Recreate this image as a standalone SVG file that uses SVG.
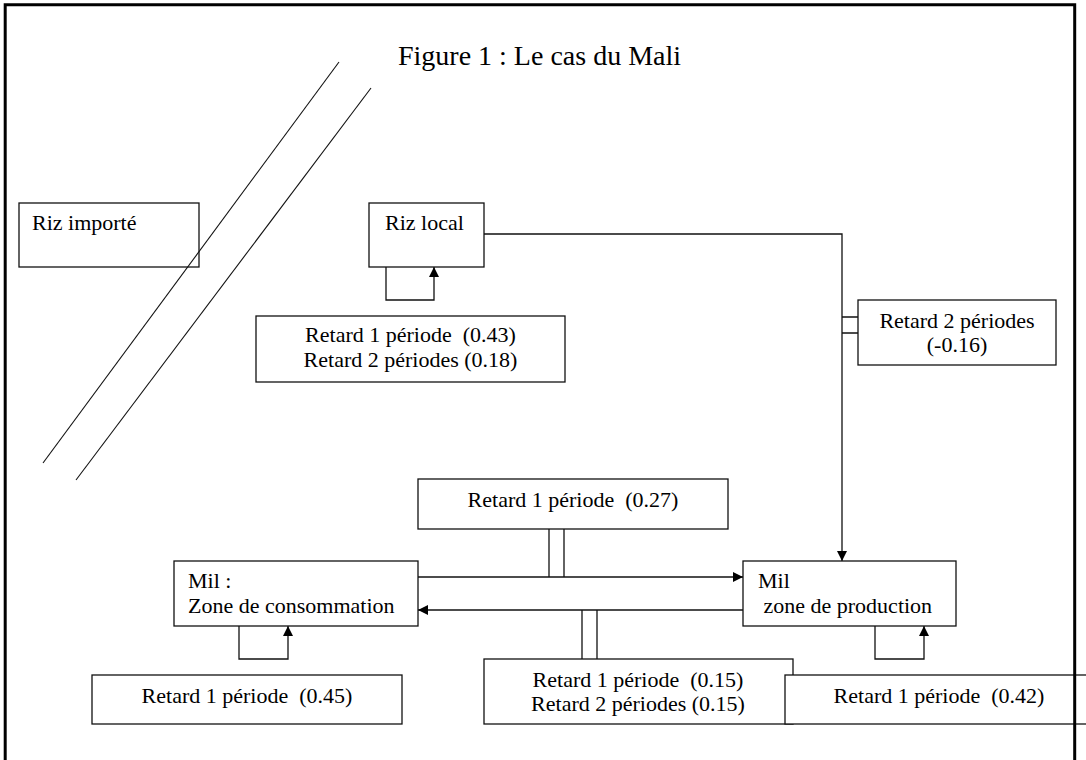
<svg xmlns="http://www.w3.org/2000/svg" width="1086" height="760" viewBox="0 0 1086 760">
<style>
.box{fill:#fff;stroke:#111;stroke-width:1.3}
.t{font-family:"Liberation Serif","Times New Roman",serif;font-size:22px;fill:#000;white-space:pre}
.c{text-anchor:middle}
.ln{fill:none;stroke:#111;stroke-width:1.3}
.diag{fill:none;stroke:#111;stroke-width:1.1}
</style>
<defs>
<marker id="ah" markerUnits="userSpaceOnUse" markerWidth="10" markerHeight="10" refX="10" refY="5" orient="auto">
<path d="M0,0 L10,5 L0,10 z" fill="#000"/>
</marker>
</defs>
<rect width="1086" height="760" fill="#fff"/>
<text x="539.5" y="65" class="t c" style="font-size:28px">Figure 1 : Le cas du Mali</text>

<g id="connectors">
<path class="ln" d="M484,234 H842 V561" marker-end="url(#ah)"/>
<path class="ln" d="M842,317 H858 M842,333 H858"/>
<path class="ln" d="M418,577 H743" marker-end="url(#ah)"/>
<path class="ln" d="M743,610 H418" marker-end="url(#ah)"/>
<path class="ln" d="M549,529 V577 M564,529 V577"/>
<path class="ln" d="M582,610 V659 M597,610 V659"/>
<path class="ln" d="M386,267 V300 H434 V267" marker-end="url(#ah)"/>
<path class="ln" d="M239,626 V659 H288 V626" marker-end="url(#ah)"/>
<path class="ln" d="M875,626 V659 H924 V626" marker-end="url(#ah)"/>
</g>

<g id="riz-importe">
<rect class="box" x="19" y="203" width="180" height="64"/>
<text class="t" x="32" y="230">Riz importé</text>
</g>
<g id="riz-local">
<rect class="box" x="369" y="203" width="115" height="64"/>
<text class="t" x="385" y="230">Riz local</text>
</g>
<g id="retard-riz-local">
<rect class="box" x="256" y="316" width="309" height="66"/>
<text class="t c" x="410.5" y="342">Retard 1 période  (0.43)</text>
<text class="t c" x="410.5" y="367">Retard 2 périodes (0.18)</text>
</g>
<g id="retard-riz-mil">
<rect class="box" x="858" y="300" width="198" height="65"/>
<text class="t c" x="957" y="328">Retard 2 périodes</text>
<text class="t c" x="957" y="352">(-0.16)</text>
</g>
<g id="retard-027">
<rect class="box" x="418" y="479" width="310" height="50"/>
<text class="t c" x="573" y="507">Retard 1 période  (0.27)</text>
</g>
<g id="mil-consommation">
<rect class="box" x="174" y="561" width="244" height="65"/>
<text class="t" x="188" y="588">Mil :</text>
<text class="t" x="188" y="613">Zone de consommation</text>
</g>
<g id="mil-production">
<rect class="box" x="743" y="561" width="213" height="65"/>
<text class="t" x="758" y="588">Mil</text>
<text class="t" x="758" y="613"> zone de production</text>
</g>
<g id="retard-045">
<rect class="box" x="92" y="675" width="310" height="49"/>
<text class="t c" x="247" y="703">Retard 1 période  (0.45)</text>
</g>
<g id="retard-015">
<rect class="box" x="484" y="659" width="309" height="65"/>
<text class="t c" x="638" y="687">Retard 1 période  (0.15)</text>
<text class="t c" x="638" y="711">Retard 2 périodes (0.15)</text>
</g>
<g id="retard-042">
<rect class="box" x="785" y="675" width="310" height="49"/>
<text class="t c" x="939" y="703">Retard 1 période  (0.42)</text>
</g>

<g id="separator">
<line class="diag" x1="339" y1="62" x2="43" y2="463"/>
<line class="diag" x1="371" y1="88" x2="76" y2="480"/>
</g>

<path d="M5.2,760 V4.8 H1074.7 V760" fill="none" stroke="#000" stroke-width="3"/>
</svg>
